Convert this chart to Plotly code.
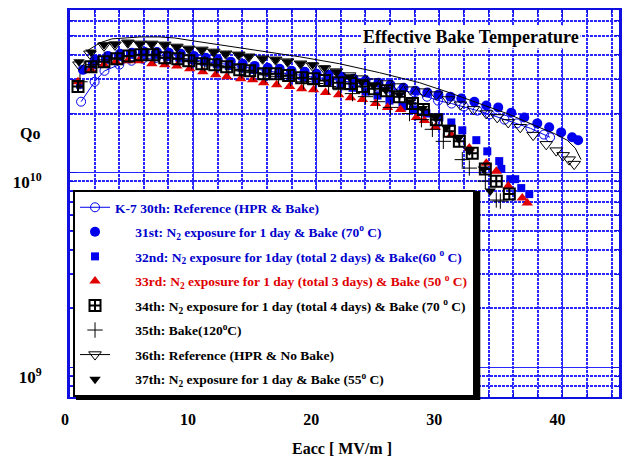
import plotly.graph_objects as go

BLUE = "#0000EE"
RED = "#E00000"
AX = "#1010E0"
GRID = "#2828FF"

# Eacc [MV/m] and Qo (in units of 1e10)
x30 = [0.9, 2.0, 2.8, 4.0, 5.0, 5.9, 7.0, 8.0, 8.9, 10.0, 11.0, 11.9, 13.0, 14.0, 14.9, 16.0, 17.0, 17.9, 19.0, 20.0,
       20.9, 22.0, 23.0, 23.9, 25.0, 26.0, 26.9, 28.0, 29.0, 29.9, 31.0, 32.0, 33.1, 34.1, 35.3, 36.3, 37.4, 38.5, 39.0]
q30 = [2.30, 2.91, 3.31, 3.56, 3.73, 3.82, 3.86, 3.86, 3.82, 3.77, 3.69, 3.64, 3.56, 3.47, 3.39, 3.31, 3.24, 3.20, 3.13, 3.05,
       3.02, 2.95, 2.88, 2.81, 2.75, 2.68, 2.62, 2.56, 2.44, 2.33, 2.25, 2.17, 2.07, 1.98, 1.86, 1.78, 1.68, 1.56, 1.51]

x31 = [1.05, 2.03, 3.08, 4.06, 5.03, 6.08, 7.06, 8.03, 9.00, 10.06, 11.03, 12.00, 13.06, 14.03, 15.00, 16.06, 17.03, 18.00,
       19.06, 20.03, 21.01, 22.06, 23.03, 24.01, 25.06, 26.03, 27.09, 28.06, 29.03, 29.93, 30.90, 31.79, 32.85, 33.82, 34.79,
       35.85, 36.90, 37.96, 38.93, 39.90, 40.79, 41.28]
q31 = [3.35, 3.77, 3.95, 4.05, 4.10, 4.14, 4.14, 4.10, 4.05, 3.95, 3.86, 3.77, 3.69, 3.60, 3.51, 3.43, 3.39, 3.31,
       3.28, 3.20, 3.16, 3.09, 3.02, 2.95, 2.88, 2.81, 2.71, 2.62, 2.56, 2.50, 2.44, 2.39, 2.30, 2.20, 2.15,
       2.02, 1.91, 1.78, 1.70, 1.60, 1.51, 1.46]

x32 = [0.81, 1.78, 2.84, 3.89, 4.87, 5.84, 6.89, 7.87, 8.92, 9.89, 10.87, 11.92, 12.90, 13.95, 14.92, 15.90, 16.95, 17.92,
       18.98, 19.95, 21.01, 21.98, 22.95, 24.01, 24.98, 25.95, 27.01, 27.90, 28.95, 30.01, 30.98, 31.87, 33.01, 33.90,
       34.87, 35.04, 35.77, 36.17, 36.66, 37.31]
q32 = [2.81, 3.56, 3.77, 3.91, 4.00, 4.05, 4.00, 3.91, 3.86, 3.77, 3.69, 3.60, 3.51, 3.43, 3.35, 3.28, 3.20, 3.13,
       3.05, 2.98, 2.91, 2.81, 2.71, 2.59, 2.47, 2.33, 2.17, 2.10, 2.00, 1.91, 1.80, 1.64, 1.46, 1.28,
       1.14, 1.04, 0.921, 0.921, 0.829, 0.772]

x33 = [0.65, 1.70, 2.76, 3.73, 4.70, 5.60, 6.65, 7.70, 8.68, 9.73, 10.79, 11.84, 12.73, 13.87, 14.84, 15.73, 16.79, 17.84,
       18.82, 19.79, 20.76, 21.82, 22.79, 23.76, 24.82, 25.79, 26.85, 28.14, 28.79, 29.68, 30.98, 32.44, 33.82, 34.63,
       35.60, 36.74, 37.15]
q33 = [2.91, 3.35, 3.56, 3.69, 3.73, 3.73, 3.60, 3.56, 3.51, 3.39, 3.28, 3.16, 3.09, 3.02, 2.98, 2.88, 2.81, 2.75,
       2.68, 2.65, 2.56, 2.50, 2.41, 2.36, 2.25, 2.15, 2.10, 1.91, 1.84, 1.70, 1.55, 1.33, 1.11, 1.01,
       0.849, 0.737, 0.695]

x34 = [0.65, 1.70, 2.76, 3.81, 4.79, 5.76, 6.73, 7.70, 8.76, 9.65, 10.71, 11.76, 12.73, 13.79, 14.60, 15.73, 16.71, 17.76,
       18.82, 19.79, 20.68, 21.82, 22.79, 23.76, 24.74, 25.71, 26.76, 27.82, 28.71, 29.76, 30.82, 31.63, 32.68, 33.74,
       34.63, 35.69]
q34 = [2.75, 3.47, 3.69, 3.82, 3.95, 4.00, 4.00, 3.86, 3.82, 3.73, 3.60, 3.56, 3.47, 3.35, 3.31, 3.20, 3.20, 3.13,
       3.05, 3.02, 2.95, 2.88, 2.85, 2.75, 2.68, 2.62, 2.44, 2.25, 2.10, 1.86, 1.62, 1.44, 1.25, 1.04,
       0.900, 0.772]

x35 = [0.81, 1.87, 2.84, 3.89, 4.87, 5.84, 6.89, 7.87, 8.92, 9.89, 10.95, 11.92, 12.90, 13.95, 14.92, 15.90, 16.95, 17.92,
       18.98, 19.95, 21.01, 21.98, 22.95, 24.01, 24.98, 26.03, 27.58, 28.55, 29.44, 30.33, 31.87, 32.44, 33.74, 34.63, 34.96]
q35 = [2.91, 3.56, 3.77, 3.86, 3.95, 4.00, 3.95, 3.86, 3.82, 3.69, 3.60, 3.51, 3.43, 3.31, 3.24, 3.16, 3.09, 3.02,
       2.91, 2.85, 2.75, 2.65, 2.53, 2.44, 2.30, 2.15, 2.00, 1.86, 1.66, 1.44, 1.16, 1.05, 0.900, 0.720, 0.711]

x36 = [0.73, 1.62, 2.76, 3.65, 4.70, 5.68, 6.65, 7.70, 8.68, 9.65, 10.71, 11.68, 12.65, 13.71, 14.52, 15.65, 16.71, 17.68,
       18.73, 19.71, 20.68, 21.65, 22.71, 23.68, 24.66, 25.71, 26.68, 27.66, 28.71, 29.76, 30.74, 31.71, 32.77, 33.82,
       34.71, 35.60, 36.58, 37.63, 38.69, 39.50, 40.06, 40.55, 40.96]
q36 = [3.56, 4.05, 4.45, 4.50, 4.61, 4.55, 4.55, 4.50, 4.39, 4.29, 4.24, 4.14, 4.05, 4.00, 3.91, 3.82, 3.77, 3.69,
       3.60, 3.51, 3.39, 3.28, 3.13, 3.02, 2.91, 2.85, 2.75, 2.65, 2.59, 2.50, 2.36, 2.22, 2.10, 2.00,
       1.91, 1.80, 1.70, 1.55, 1.39, 1.29, 1.22, 1.16, 1.10]

# smooth reference curve drawn with the 36th data set
x36c = [1.38, 2.43, 3.41, 4.46, 5.68, 7.30, 8.52, 9.98, 12.17, 15.41, 18.65, 21.90, 25.14, 28.39, 30.82, 33.25,
        35.69, 37.71, 39.33, 40.39, 41.04, 41.52]
q36c = [4.19, 4.61, 4.83, 4.88, 4.94, 4.94, 4.88, 4.72, 4.50, 4.19, 3.91, 3.60, 3.24, 2.88, 2.56, 2.25,
        1.98, 1.74, 1.58, 1.46, 1.33, 1.16]

x37 = [0.73, 1.70, 2.76, 3.65, 4.70, 5.68, 6.65, 7.70, 8.68, 9.65, 10.71, 11.68, 12.65, 13.71, 14.52, 15.65, 16.71, 17.68,
       18.73, 19.71, 20.68, 21.65, 22.71, 23.68, 24.66, 25.63, 26.76, 27.66, 28.63, 29.68, 30.58, 31.55, 32.44, 33.58, 34.14]
q37 = [3.69, 4.14, 4.50, 4.55, 4.61, 4.55, 4.55, 4.50, 4.39, 4.29, 4.24, 4.14, 4.05, 4.00, 3.91, 3.82, 3.77, 3.69,
       3.60, 3.56, 3.43, 3.28, 3.09, 2.91, 2.78, 2.65, 2.50, 2.30, 2.12, 1.91, 1.70, 1.49, 1.29, 1.04, 0.800]

x_ticks = [0, 10, 20, 30, 40]
y_ticks = [1e9, 1e10]
y_ticktext = ["<b>10<sup>9</sup></b>", "<b>10<sup>10</sup></b>"]

SP = "\u2003\u2002"
names = {
    30: "<b><span style='color:#0000CC'>K-7 30th: Reference (HPR &amp; Bake)</span></b>",
    31: SP + "<b><span style='color:#0000CC'>31st: N<sub>2</sub> exposure for 1 day &amp; Bake (70<sup>o</sup> C)</span></b>",
    32: SP + "<b><span style='color:#0000CC'>32nd: N<sub>2</sub> exposure for 1day (total 2 days) &amp; Bake(60 <sup>o</sup> C)</span></b>",
    33: SP + "<b><span style='color:#E00000'>33rd: N<sub>2</sub> exposure for 1 day (total 3 days) &amp; Bake (50 <sup>o</sup> C)</span></b>",
    34: SP + "<b>34th: N<sub>2</sub> exposure for 1 day (total 4 days) &amp; Bake (70 <sup>o</sup> C)</b>",
    35: SP + "<b>35th: Bake(120<sup>o</sup>C)</b>",
    36: SP + "<b>36th: Reference (HPR &amp; No Bake)</b>",
    37: SP + "<b>37th: N<sub>2</sub> exposure for 1 day &amp; Bake (55<sup>o</sup> C)</b>",
}

E = 1e10
fig = go.Figure()


def add(x, q, key, rank, show=True, group=None, **kw):
    fig.add_trace(go.Scatter(x=x, y=[v * E for v in q], name=names[key], legendrank=rank,
                             showlegend=show, legendgroup=group or str(key) + ("" if show else "h"), **kw))


add(x30, q30, 30, 1, mode="lines+markers", line=dict(color=BLUE, width=1),
    marker=dict(symbol="circle-open", size=9, color=BLUE, line=dict(width=1, color=BLUE)))
add(x31, q31, 31, 2, mode="markers", marker=dict(symbol="circle", size=10, color=BLUE))
add(x32, q32, 32, 3, mode="markers", marker=dict(symbol="square", size=8, color=BLUE))
add(x33, q33, 33, 4, mode="markers", marker=dict(symbol="triangle-up", size=10, color=RED))
add(x36, q36, 36, 7, show=False, group="g36", mode="markers",
    marker=dict(symbol="triangle-down-open", size=11, color="black", line=dict(width=1, color="black")))
add(x37, q37, 37, 8, mode="markers", marker=dict(symbol="triangle-down", size=10, color="black"))
add(x34, q34, 34, 5, mode="markers",
    marker=dict(symbol="square-cross-open", size=11, color="black", line=dict(width=2, color="black")))
add(x35, q35, 35, 6, mode="markers",
    marker=dict(symbol="cross-thin-open", size=11, color="black", line=dict(width=1, color="black")))
add(x36c, q36c, 36, 7, group="g36", mode="lines+markers", line=dict(color="black", width=1),
    marker=dict(symbol="triangle-down-open", size=11, color="black", line=dict(width=1, color="black")),
    selectedpoints=[], unselected=dict(marker=dict(opacity=0)))

minor_y = [m * 10 ** e for e in (8, 9, 10) for m in range(2, 10)]

fig.update_layout(
    width=614, height=454,
    margin=dict(l=62, r=2, t=0, b=65),
    paper_bgcolor="white", plot_bgcolor="white",
    font=dict(family="Liberation Serif", size=12, color="black"),
    hovermode=False,
    legend=dict(x=0.0055, y=0, xanchor="left", yanchor="bottom", bgcolor="white",
                bordercolor="black", borderwidth=2, traceorder="grouped", tracegroupgap=4,
                font=dict(family="Liberation Serif", size=13.5)),
    shapes=[dict(type="rect", xref="paper", yref="paper", x0=0.0109, x1=0.7473, y0=-0.0077, y1=0.532,
                 fillcolor="black", line=dict(width=0), layer="above")],
    xaxis=dict(range=[0, 44.6], tickvals=x_ticks, ticks="inside", ticklen=7, tickwidth=1, tickcolor=AX,
               showline=True, linecolor=AX, linewidth=2, mirror="allticks", zeroline=False,
               showgrid=True, gridcolor=GRID, gridwidth=1,
               tickfont=dict(size=16, weight="bold"), ticklabelstandoff=7, ticklabelshift=-5,
               minor=dict(dtick=2, tick0=0, ticks="inside", ticklen=4, tickcolor=AX,
                          showgrid=True, gridcolor=GRID, gridwidth=1.5, griddash="3px,1px")),
    yaxis=dict(type="log", range=[8.847, 10.832], tickvals=y_ticks, ticktext=y_ticktext,
               ticks="inside", ticklen=7, tickwidth=1, tickcolor=AX,
               showline=True, linecolor=AX, linewidth=3, mirror="allticks", zeroline=False,
               showgrid=True, gridcolor=GRID, gridwidth=1,
               tickfont=dict(size=17), ticklabelstandoff=22, ticklabelshift=10,
               minor=dict(tickvals=minor_y, ticks="inside", ticklen=4, tickcolor=AX,
                          showgrid=True, gridcolor=GRID, gridwidth=1.5, griddash="3px,1px")),
    annotations=[
        dict(text="<b>Effective Bake Temperature</b>", xref="paper", yref="paper", x=0.731, y=0.931,
             xanchor="center", yanchor="middle", showarrow=False, font=dict(size=18), bgcolor="white"),
        dict(text="<b>Qo</b>", xref="paper", yref="paper", x=-0.073, y=0.681, xanchor="center",
             yanchor="middle", showarrow=False, font=dict(size=16)),
        dict(text="<b>Eacc [ MV/m ]</b>", xref="paper", yref="paper", x=0.495, y=-0.134, xanchor="center",
             yanchor="middle", showarrow=False, font=dict(size=16)),
    ],
)

fig.write_html("out.html")
